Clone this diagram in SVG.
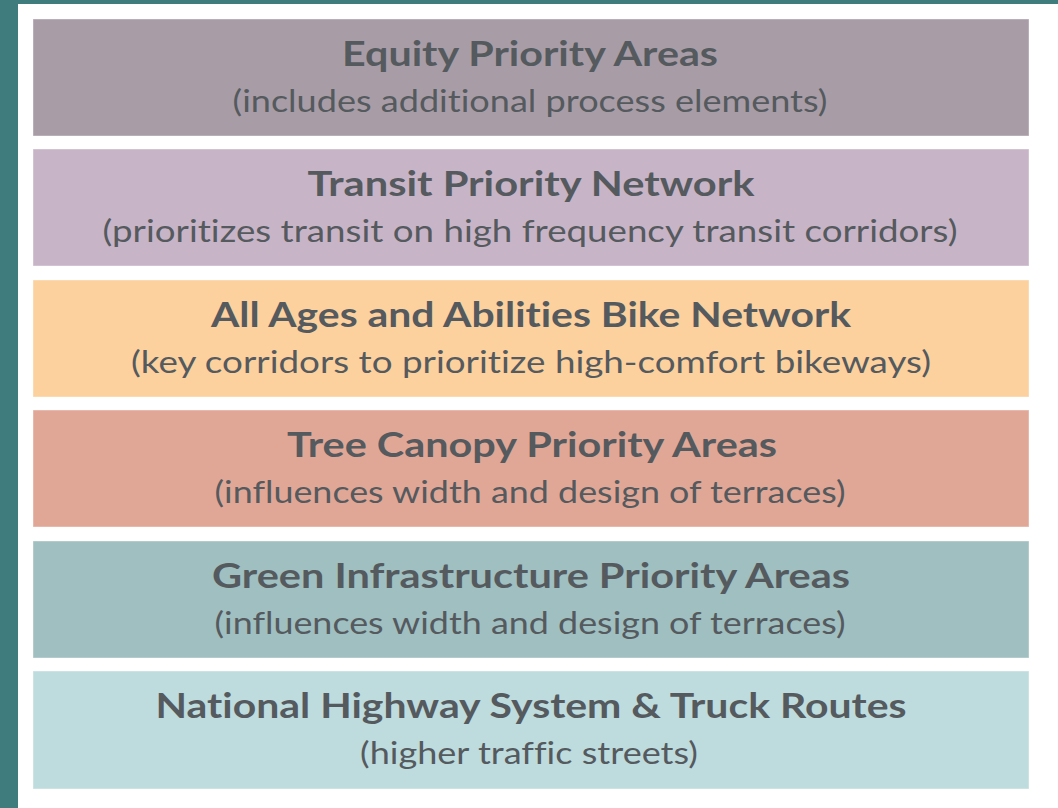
<svg xmlns="http://www.w3.org/2000/svg" width="1058" height="808" viewBox="0 0 1058 808">
<style>
.t{font-family:Lato,"Open Sans","Liberation Sans",sans-serif;font-weight:bold;font-size:34px;fill:#555a5e;text-anchor:middle;font-variant-ligatures:none}
.s{font-family:Lato,"Open Sans","Liberation Sans",sans-serif;font-size:31px;fill:#555a5e;text-anchor:middle;font-variant-ligatures:none}
.b{stroke:#ffffff;stroke-opacity:0.4;stroke-width:1}
</style>
<rect x="0" y="0" width="1058" height="808" fill="#3f7c7d"/>
<rect x="18" y="4" width="1040" height="804" fill="#ffffff"/>
<g id="n1"><rect class="b" x="33" y="19" width="996" height="117" fill="#a89da6"/>
<text class="t" x="530" y="66" textLength="376" lengthAdjust="spacingAndGlyphs">Equity Priority Areas</text>
<text class="s" x="530" y="112" textLength="595" lengthAdjust="spacingAndGlyphs">(includes additional process elements)</text></g>
<g id="n2"><rect class="b" x="33" y="149" width="996" height="117" fill="#c8b4c7"/>
<text class="t" x="531" y="196" textLength="447" lengthAdjust="spacingAndGlyphs">Transit Priority Network</text>
<text class="s" x="530" y="242" textLength="855" lengthAdjust="spacingAndGlyphs">(prioritizes transit on high frequency transit corridors)</text></g>
<g id="n3"><rect class="b" x="33" y="280" width="996" height="117" fill="#fcd19e"/>
<text class="t" x="531" y="327" textLength="640" lengthAdjust="spacingAndGlyphs">All Ages and Abilities Bike Network</text>
<text class="s" x="531" y="373" textLength="800" lengthAdjust="spacingAndGlyphs">(key corridors to prioritize high-comfort bikeways)</text></g>
<g id="n4"><rect class="b" x="33" y="410" width="996" height="117" fill="#e1a796"/>
<text class="t" x="532" y="457" textLength="490" lengthAdjust="spacingAndGlyphs">Tree Canopy Priority Areas</text>
<text class="s" x="530" y="503" textLength="631" lengthAdjust="spacingAndGlyphs">(influences width and design of terraces)</text></g>
<g id="n5"><rect class="b" x="33" y="541" width="996" height="117" fill="#a0bfc1"/>
<text class="t" x="531" y="588" textLength="638" lengthAdjust="spacingAndGlyphs">Green Infrastructure Priority Areas</text>
<text class="s" x="530" y="634" textLength="631" lengthAdjust="spacingAndGlyphs">(influences width and design of terraces)</text></g>
<g id="n6"><rect class="b" x="33" y="671" width="996" height="118" fill="#bedcde"/>
<text class="t" x="531" y="718" textLength="751" lengthAdjust="spacingAndGlyphs">National Highway System &amp; Truck Routes</text>
<text class="s" x="529" y="764" textLength="338" lengthAdjust="spacingAndGlyphs">(higher traffic streets)</text></g>
<g id="connectors"/>
</svg>
